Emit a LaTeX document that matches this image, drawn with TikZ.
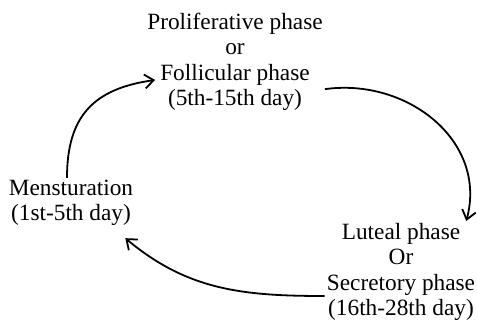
\documentclass[tikz,border=0pt]{standalone}
\usepackage{fontspec}
\setmainfont{Liberation Serif}
\usetikzlibrary{arrows.meta}

\begin{document}
\begin{tikzpicture}[x=1pt, y=-1pt,
                phase/.style={
                  align=center, inner sep=2pt,
                  font=\fontsize{23.3}{25.5}\selectfont % Word-like single spacing
                },
                cycle/.style={line width=1.8pt, -{Straight Barb[length=9pt,width=14pt]}}
              ]
              \useasboundingbox (0,0) rectangle (477,320);
              \node [phase] at (235,62) (prol) {Proliferative phase\\or\\Follicular phase\\(5th-15th day)};
              \node [phase] at (71,203) (mens) {Mensturation\\(1st-5th day)};
              \node [phase] at (401,272) (lut) {Luteal phase\\Or\\Secretory phase\\(16th-28th day)};
              % arrows of the cycle
              \draw [cycle] ([shift={(-4,0)}]mens.north) to [out=90, in=188, looseness=1.2] ([shift={(10,18)}]prol.west);
              \draw [cycle] ([shift={(0,-24)}]prol.south east) to [out=8, in=75, looseness=1.1] ([shift={(-11,0)}]lut.north east);
              \draw [cycle] ([shift={(0,24)}]lut.west) to [out=180, in=-40] ([shift={(-10,10)}]mens.south east);
            \end{tikzpicture}
\end{document}
